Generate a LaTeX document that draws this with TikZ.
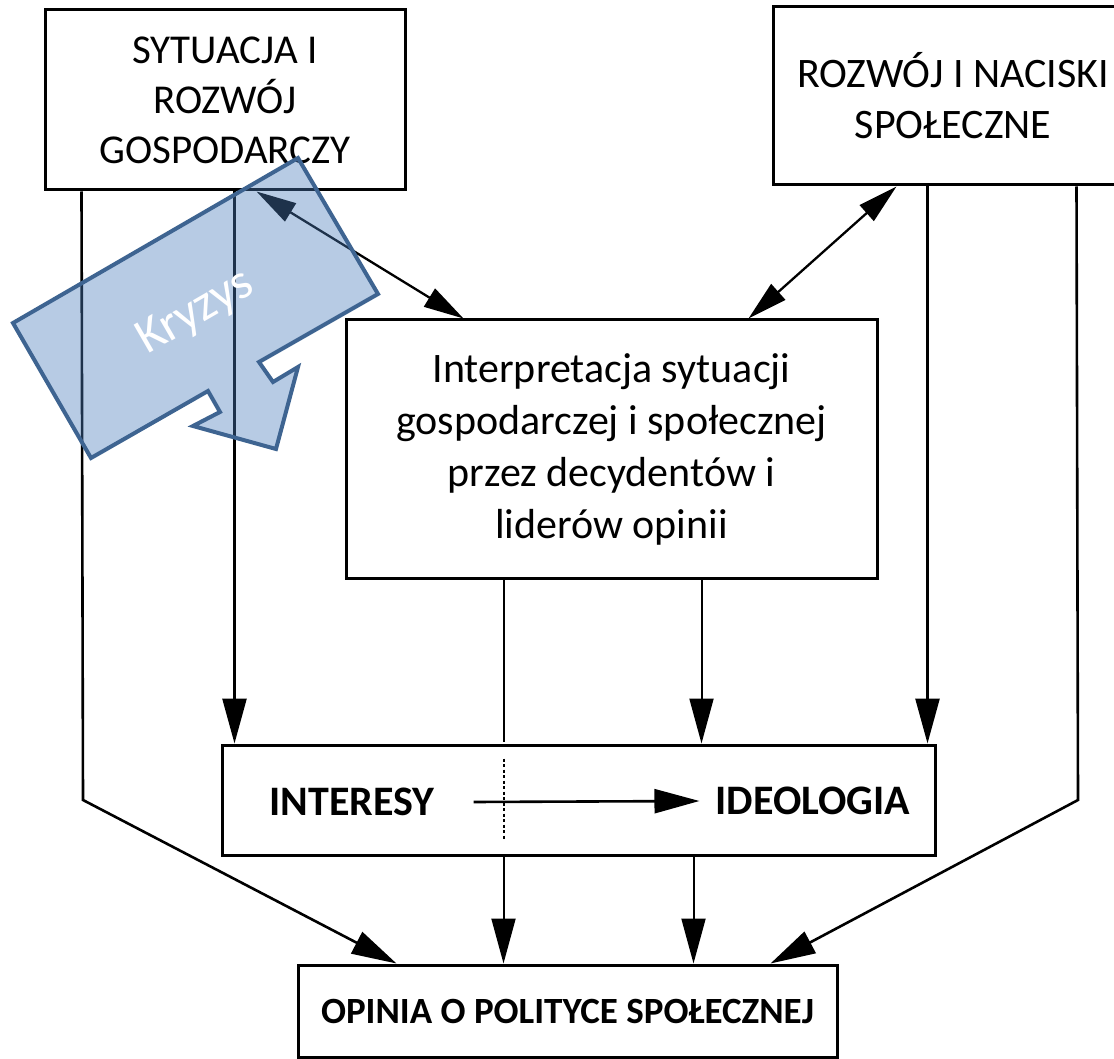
\documentclass[tikz,border=0pt]{standalone}
\usepackage{fontspec}
\setmainfont{Carlito}
\usetikzlibrary{arrows.meta}
\definecolor{kryzysfill}{RGB}{75,125,188}
\definecolor{kryzysline}{RGB}{62,100,145}
\tikzset{
  box/.style={draw,line width=3pt,inner sep=0pt,align=center},
  lbl/.style={inner sep=0pt,font=\fontsize{42}{51}\selectfont\bfseries},
  arr/.style={line width=2.6pt,-{Triangle[length=45pt,width=24pt]}},
  dbl/.style={line width=2.3pt,{Triangle[length=40pt,width=21pt]}-{Triangle[length=40pt,width=21pt]}},
  ln/.style={line width=2pt}
}
\begin{document}
\begin{tikzpicture}[x=1pt,y=-1pt]
\useasboundingbox (0,0) rectangle (1114,1059);
\clip (0,0) rectangle (1114,1059);
%boxes
\node[box,minimum width=360pt,minimum height=180pt,font=\fontsize{41}{50}\selectfont] (gosp) at (225,100) {SYTUACJA I\\ROZWÓJ\\GOSPODARCZY};
\node[box,minimum width=360pt,minimum height=178pt,font=\fontsize{42}{51}\selectfont] (spol) at (953,96) {ROZWÓJ I NACISKI\\SPOŁECZNE};
\node[box,minimum width=531pt,minimum height=258pt,font=\fontsize{42}{52}\selectfont] (interp) at (611.5,449) {Interpretacja sytuacji\\gospodarczej i społecznej\\przez decydentów i\\liderów opinii};
\node[box,minimum width=713pt,minimum height=110pt] (intid) at (578.5,800) {};
\node[box,minimum width=539pt,minimum height=92pt,font=\fontsize{37}{44}\selectfont\bfseries] (opinia) at (567.5,1011) {OPINIA O POLITYCE SPOŁECZNEJ};
\node[lbl] (interesy) at (352,802) {INTERESY};
\node[lbl] (ideologia) at (813,801) {IDEOLOGIA};
%bends
\coordinate (bendl) at (83,800);
\coordinate (bendr) at (1078,800);
%connectors
\draw[arr] ([xshift=38pt]gosp.south west) -- (bendl) -- ([xshift=100pt]opinia.north west);
\draw[arr] ([xshift=191pt]gosp.south west) -- ([xshift=14pt]intid.north west);
\draw[dbl] ([xshift=213pt]gosp.south west) -- ([xshift=119pt]interp.north west);
\draw[dbl] ([xshift=125pt]spol.south west) -- ([xshift=404pt]interp.north west);
\draw[arr] ([xshift=156pt]spol.south west) -- ([xshift=707pt]intid.north west);
\draw[arr] ([xshift=305pt]spol.south west) -- (bendr) -- ([xshift=474pt]opinia.north west);
\draw[arr,line width=2pt] ([xshift=357pt]interp.south west) -- ([xshift=481pt]intid.north west);
\draw[ln] ([xshift=159pt]interp.south west) -- ([xshift=283pt,yshift=2pt]intid.north west);
\draw[ln,dash pattern=on 3pt off 2.5pt] ([xshift=283pt,yshift=-15pt]intid.north west) -- ([xshift=283pt,yshift=18pt]intid.south west);
\draw[arr,line width=2pt] ([xshift=283pt]intid.south west) -- ([xshift=207pt]opinia.north west);
\draw[arr,line width=2pt] ([xshift=473pt]intid.south west) -- ([xshift=397pt]opinia.north west);
\draw[arr] ([xshift=39pt]interesy.east) -- ([xshift=-16pt]ideologia.west);
%crisis arrow
\filldraw[draw=kryzysline,fill=kryzysfill,fill opacity=0.4,line width=4pt,line join=miter]
  (298,158) -- (378,294) -- (259,362) -- (273,382) -- (298,367) -- (276,449)
  -- (193,426) -- (220,412) -- (208,391) -- (91,458) -- (13,323) -- cycle;
\node[text=white,rotate=30,inner sep=0pt,font=\fontsize{50}{60}\selectfont] (kryzys) at (196,313) {Kryzys};
\end{tikzpicture}
\end{document}
